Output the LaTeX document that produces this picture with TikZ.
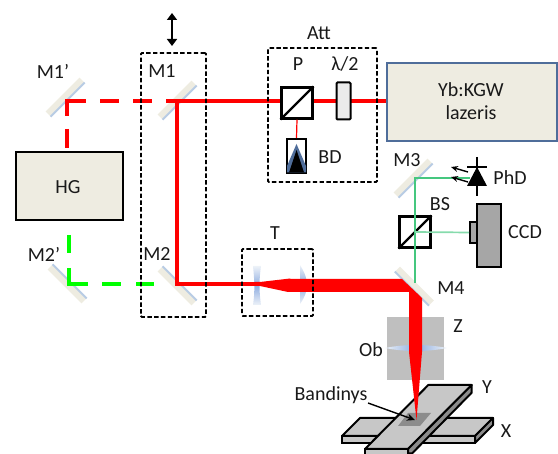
\documentclass[tikz,border=0pt]{standalone}
\usepackage{fontspec}
\setmainfont{Carlito}
\usetikzlibrary{arrows.meta}
\definecolor{beige}{HTML}{EEECE1}
\definecolor{coat}{HTML}{B8CCE4}
\definecolor{lensblue}{HTML}{8FADE0}
\definecolor{laserred}{HTML}{FF0000}
\definecolor{beamgreen}{HTML}{00FF00}
\definecolor{thingreen}{HTML}{45C77F}
\definecolor{frameblue}{HTML}{4F6D9A}
\tikzset{
  x=1pt,y=-1pt,
  lab/.style={inner sep=0pt,font=\fontsize{20}{22}\selectfont,text=black!90},
  mirrorbody/.style={draw=none,fill=beige,minimum width=48pt,minimum height=7pt,inner sep=0pt},
  coatline/.style={draw=coat,line width=2pt},
  redbeam/.style={draw=laserred,line width=4pt},
  greenbeam/.style={draw=beamgreen,line width=4pt},
  dashbox/.style={draw=black,line width=1.8pt,dash pattern=on 4.4pt off 2.4pt,rounded corners=1pt,fill=none,inner sep=0pt},
  sourcebox/.style={draw=black,line width=2pt,fill=beige,inner sep=0pt},
  cube/.style={draw=black,line width=2.2pt,fill=white,minimum width=31pt,minimum height=31pt,inner sep=0pt},
  platetop/.style={draw=black,line width=2pt,fill=black!22,line join=round},
  plateside/.style={draw=black,line width=2pt,fill=black!45,line join=round},
  thing/.style={draw=black,line width=2pt,fill=black!35},
}
\begin{document}
\begin{tikzpicture}
\useasboundingbox (0,0) rectangle (558,454);
% named beam points
\coordinate (c1p) at (67,101);
\coordinate (c1) at (176.5,101);
\coordinate (c2) at (176.5,284);
\coordinate (c2p) at (68.5,284);
\coordinate (c3) at (415,178);
\coordinate (c4) at (415,283);
\coordinate (cbs) at (415,232);
\coordinate (cpd) at (470,178);
% mirrors
\node[mirrorbody,rotate=45]  (M1p) at (65,97)   {};
\node[mirrorbody,rotate=45]  (M1)  at (177,100) {};
\node[mirrorbody,rotate=-45] (M2p) at (67,284)  {};
\node[mirrorbody,rotate=-45] (M2)  at (177,286) {};
\node[mirrorbody,rotate=45]  (M3)  at (413,178) {};
\node[mirrorbody,rotate=-45] (M4)  at (414.5,286) {};
\draw[coatline] (M1p.south west) -- (M1p.south east);
\draw[coatline] (M1.south west) -- (M1.south east);
\draw[coatline] (M2p.north west) -- (M2p.north east);
\draw[coatline] (M2.north west) -- (M2.north east);
\draw[coatline] (M3.south west) -- (M3.south east);
\draw[coatline] (M4.south west) -- (M4.south east);
% source boxes
\node[sourcebox,minimum width=107pt,minimum height=68pt] (HG) at (69.5,186.5) {};
\node[draw=frameblue,line width=2.2pt,fill=beige,inner sep=0pt,minimum width=170pt,minimum height=78pt] (laser) at (472,102) {};
% grey objective block, stage
\node[fill=black!25,inner sep=0pt,minimum width=57pt,minimum height=63pt] (Zb) at (415.5,348.5) {};
\shade[left color=coat!30,right color=coat!30,middle color=lensblue] (385,348) .. controls (405,344) and (427,344) .. (447,348) .. controls (427,352) and (405,352) .. (385,348) -- cycle;
% X plate
\draw[platetop] (360,418) -- (493,418) -- (475,436) -- (342,436) -- cycle;
\draw[plateside] (475,436) -- (493,418) -- (493,425) -- (475,443) -- cycle;
\draw[draw=black,line width=2pt,fill=black!22] (342,436) -- (475,436) -- (475,443) -- (342,443) -- cycle;
% Y plate
\draw[platetop] (428.3,385) -- (471.7,385) -- (408,449) -- (365,449) -- cycle;
\draw[plateside] (471.7,385) -- (471.7,392.7) -- (412,453.5) -- (408,453.5) -- (408,449) -- cycle;
\draw[draw=black,line width=2pt,fill=black!22] (365,449) -- (408,449) -- (408,455) -- (365,455) -- cycle;
\fill[black!45] (408,413) -- (431,413) -- (420,426) -- (398,426) -- cycle;
% lenses of the telescope
\shade[top color=coat!25,bottom color=coat!25,middle color=lensblue] (253,266) -- (261,266) .. controls (259,280) and (259,291) .. (261,305) -- (253,305) .. controls (255,292) and (254.5,280) .. (253,266) -- cycle;
\shade[top color=coat!25,bottom color=coat!25,middle color=lensblue] (300,265) .. controls (305,273) and (307,279) .. (307,285) .. controls (307,291) and (305,297) .. (300,304) -- cycle;
% beam splitter and CCD, then the thin green paths over them
\node[cube] (BS) at (415,232) {};
\draw[black,line width=2.2pt] (BS.south west) -- (BS.north east);
\node[thing,minimum width=7pt,minimum height=21pt] (CCDh) at (473.5,232.5) {};
\node[thing,minimum width=24pt,minimum height=63pt] (CCD) at (489,235.5) {};
\draw[thingreen,line width=1.2pt] (c4) -- (c3) -- (cpd);
\draw[thingreen!65,line width=1.7pt] (cbs) -- (CCDh.west);
% red beams
\draw[redbeam,dash pattern=on 19pt off 14pt] (100,101) -- (c1);
\draw[redbeam,line join=miter] (67,116) -- (c1p) -- (86,101);
\draw[redbeam] (67,129) -- (67,148);
\draw[redbeam] (c1) ++(-2,0) -- (laser.west |- c1);
\draw[redbeam,line join=miter] (c1) -- (c2) -- (262,284);
\draw[greenbeam] (68.5,235) -- (68.5,253);
\draw[greenbeam,line join=miter] (68.5,268) -- (c2p) -- (88,284);
\draw[greenbeam,dash pattern=on 19pt off 15pt] (102,284) -- (154,284);
\fill[laserred] (255,282) -- (260,282) -- (290,278.5) -- (290,279) -- (402,279) -- (422,298) -- (422,352) -- (416.5,420) -- (409,352) -- (409,292) -- (288,292) -- (260,286) -- (255,286) -- cycle;
% Att components
\node[cube] (P) at (297,103) {};
\draw[black,line width=2.2pt] (P.south west) -- (P.north east);
\node[draw=black,line width=2pt,fill=black!8,rounded corners=1pt,inner sep=0pt,minimum width=14pt,minimum height=37pt] (wp) at (343.5,101) {};
\node[draw=black,line width=2pt,fill=white,inner sep=0pt,minimum width=19pt,minimum height=34pt] (BD) at (296.5,156) {};
\draw[laserred,line width=1.2pt] (P.south) -- (BD.north);
\fill[frameblue] (296.5,144) -- (306,166) -- (306,172.5) -- (287,172.5) -- (287,166) -- cycle;
\fill[black] (296.5,150) -- (304,172.5) -- (289,172.5) -- cycle;
% dashed frames
\node[dashbox,minimum width=65pt,minimum height=264pt] (box1) at (173.5,185) {};
\node[dashbox,minimum width=109pt,minimum height=134pt] (boxatt) at (322.5,115) {};
\node[dashbox,minimum width=71pt,minimum height=67pt] (boxt) at (277.5,282.5) {};
% translation arrow
\coordinate (tu) at (172,13);
\coordinate (td) at (172,46);
\draw[{Triangle[length=7pt,width=10pt]}-{Triangle[length=7pt,width=10pt]},black,line width=2.2pt] (tu) -- (td);
% photodiode
\coordinate (pdt) at (477,157);
\coordinate (pdb) at (477,196);
\draw[black,line width=1.7pt] (pdt) -- (pdb);
\draw[black,line width=1.7pt] (467,167) -- (487,167);
\fill[black] (477,167) -- (487,186) -- (467,186) -- cycle;
\coordinate (a1s) at (468,172);
\coordinate (a1e) at (451,167);
\coordinate (a2s) at (468,182);
\coordinate (a2e) at (451,177);
\draw[-{Stealth[length=7pt,width=6pt]},black,line width=1.4pt] (a1s) -- (a1e);
\draw[-{Stealth[length=7pt,width=6pt]},black,line width=1.4pt] (a2s) -- (a2e);
% labels
\node[lab] (tM1p) at (53,71) {M1’};
\node[lab] (tM1) at (162,71) {M1};
\node[lab] (tM2p) at (44,254) {M2’};
\node[lab] (tM2) at (157,254) {M2};
\node[lab] (tM3) at (407,160) {M3};
\node[lab] (tM4) at (451,288) {M4};
\node[lab] (tHG) at (68,187) {HG};
\node[lab] (tAtt) at (319,33) {Att};
\node[lab] (tP) at (298,64) {P};
\node[lab] (tlam) at (345,64) {λ/2};
\node[lab] (tBD) at (330,157) {BD};
\node[lab] (tY1) at (471,90) {Yb:KGW};
\node[lab] (tY2) at (471,113) {lazeris};
\node[lab] (tPhD) at (510,178) {PhD};
\node[lab] (tBS) at (440,204) {BS};
\node[lab] (tCCD) at (525,232) {CCD};
\node[lab] (tT) at (275,233) {T};
\node[lab] (tZ) at (458,326) {Z};
\node[lab] (tOb) at (371,350) {Ob};
\node[lab] (tB) at (331,395) {Bandinys};
\node[lab] (tYax) at (487,387) {Y};
\node[lab] (tXax) at (506,431) {X};
\coordinate (bstart) at (368,403);
\coordinate (sample) at (415,420);
\draw[-{Stealth[length=8pt,width=7pt]},black,line width=1.4pt] (bstart) -- (sample);
\end{tikzpicture}
\end{document}
